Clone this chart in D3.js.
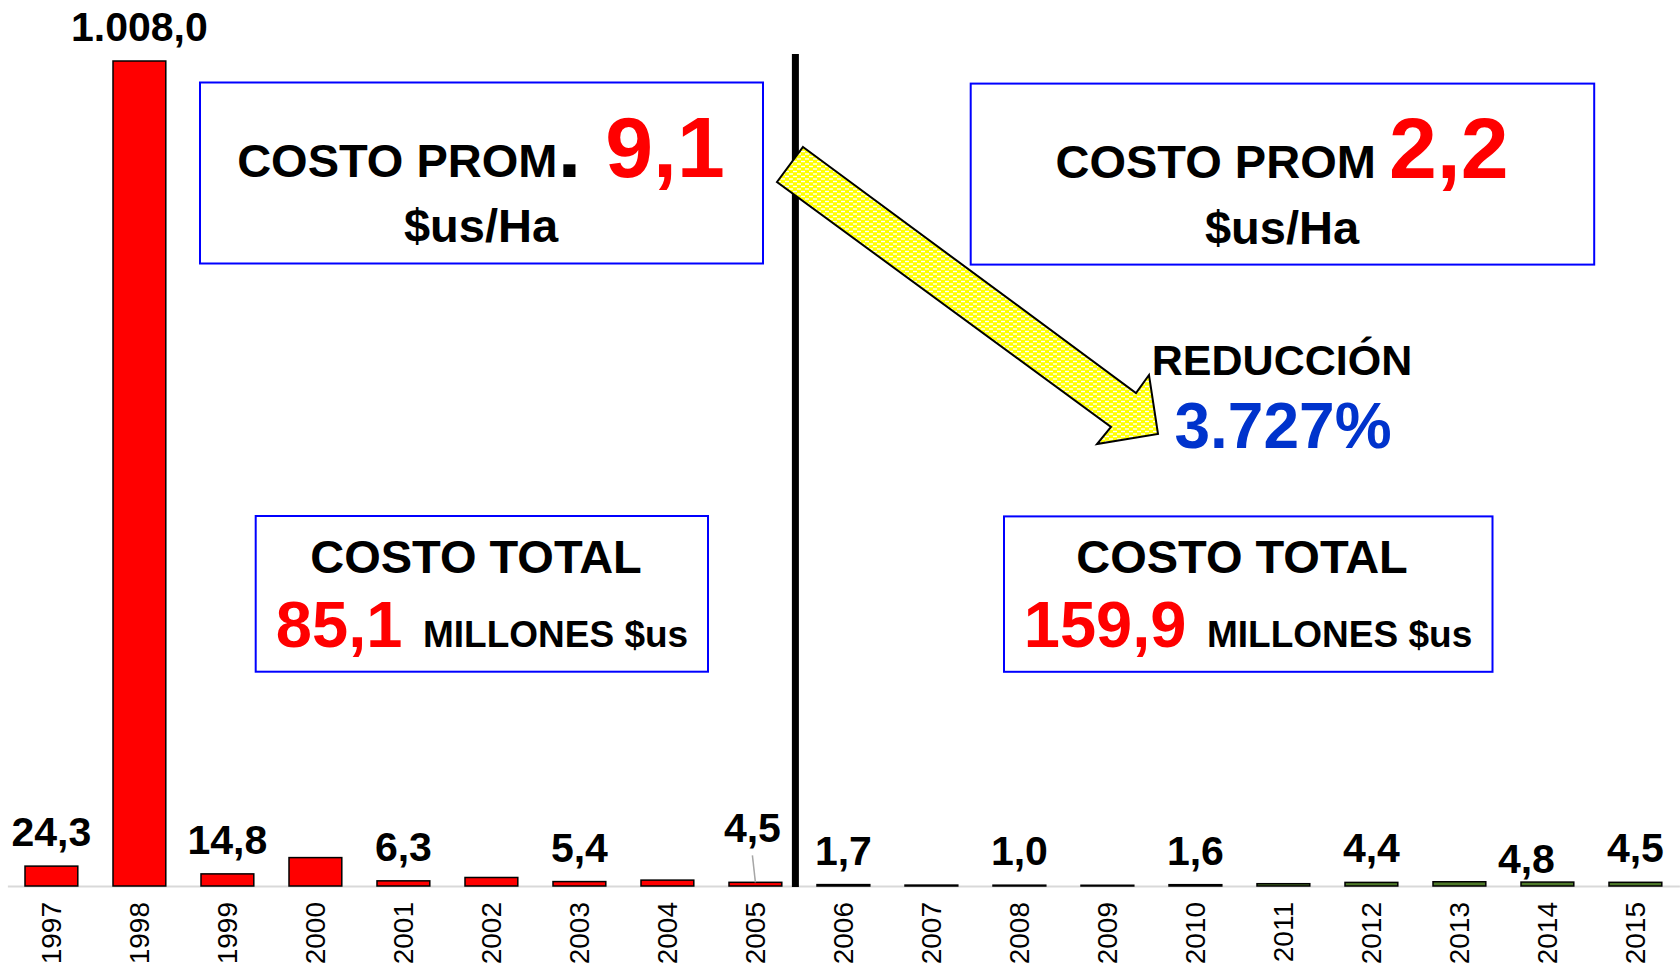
<!DOCTYPE html>
<html>
<head>
<meta charset="utf-8">
<script src="https://cdn.jsdelivr.net/npm/d3@7"></script>
<style>
  body { margin: 0; background: #fff; }
  svg { display: block; }
  text { font-family: "Liberation Sans", Arial, Helvetica, sans-serif; white-space: pre; }
</style>
</head>
<body>
<svg id="chart" width="1680" height="967"></svg>
<script>
// ---------- data ----------
const years = ["1997","1998","1999","2000","2001","2002","2003","2004","2005",
               "2006","2007","2008","2009","2010","2011","2012","2013","2014","2015"];
const costs = [24.3, 1008.0, 14.8, 34.7, 6.3, 10.4, 5.4, 7.2, 4.5,
               1.7, 1.1, 1.0, 0.9, 1.6, 2.8, 4.4, 5.2, 4.8, 4.5];
const valueLabels = ["24,3","1.008,0","14,8","","6,3","","5,4","","4,5",
                     "1,7","","1,0","","1,6","","4,4","","4,8","4,5"];
const promLabels = ["COSTO PROM", "COSTO PROM"];
const promValues = ["9,1", "2,2"];
const promUnit = "$us/Ha";
const totalTitle = "COSTO TOTAL";
const totalValues = ["85,1", "159,9"];
const totalUnit = "MILLONES $us";
const reductionLabel = "REDUCCIÓN";
const reductionValue = "3.727%";

// ---------- setup ----------
const svg = d3.select("#chart");
const FONT_B = 700;

const x = d3.scaleBand().domain(years).range([7.4, 1679.4]).paddingInner(0.4).paddingOuter(0.2);
const y = d3.scaleLinear().domain([0, 1008]).range([886, 61]);

function barColor(yr) {
  const n = +yr;
  if (n <= 2005) return "#ff0000";
  if (n <= 2010) return "#7f7f7f";
  return "#4f7a2a";
}

// pattern for arrow
const defs = svg.append("defs");
const pat = defs.append("pattern").attr("id", "arrowPat").attr("patternUnits", "userSpaceOnUse")
  .attr("width", 8).attr("height", 5);
pat.append("rect").attr("width", 8).attr("height", 5).attr("fill", "#ffff00");
pat.append("rect").attr("x", 1).attr("y", 0.8).attr("width", 4).attr("height", 1.4).attr("fill", "#ffffff");
pat.append("rect").attr("x", 5).attr("y", 3.3).attr("width", 3).attr("height", 1.4).attr("fill", "#ffffff");
pat.append("rect").attr("x", 0).attr("y", 3.3).attr("width", 1).attr("height", 1.4).attr("fill", "#ffffff");

// axis
const axis = d3.axisBottom(x).tickSize(0).tickSizeOuter(0);
const gAxis = svg.append("g").attr("transform", `translate(0,${y(0)})`).call(axis);
gAxis.select(".domain").attr("stroke", "#d9d9d9").attr("stroke-width", 2);
gAxis.selectAll(".tick text")
  .attr("transform", "rotate(-90)")
  .attr("x", -16).attr("y", 0).attr("dy", "0.36em")
  .attr("text-anchor", "end")
  .attr("font-size", 28)
  .attr("fill", "#000")
  .style("font-family", '"Liberation Sans", Arial, sans-serif');

// bars
const data = years.map((yr, i) => ({ yr, v: costs[i], label: valueLabels[i] }));
svg.append("g").selectAll("rect").data(data).join("rect")
  .attr("x", d => x(d.yr))
  .attr("width", x.bandwidth())
  .attr("y", d => y(d.v))
  .attr("height", d => y(0) - y(d.v))
  .attr("fill", d => barColor(d.yr))
  .attr("stroke", "#000")
  .attr("stroke-width", 1.5);

// value labels
const labelNudge = { "2005": { dx: -3, dy: -20 }, "2014": { dx: -21, dy: 11 } };
const lbl = data.filter(d => d.label);
svg.append("g").selectAll("text").data(lbl).join("text")
  .attr("x", d => x(d.yr) + x.bandwidth() / 2 + (labelNudge[d.yr] ? labelNudge[d.yr].dx : 0))
  .attr("y", d => y(d.v) - 20 + (labelNudge[d.yr] ? labelNudge[d.yr].dy : 0))
  .attr("text-anchor", "middle")
  .attr("font-size", 41)
  .attr("font-weight", FONT_B)
  .attr("fill", "#000")
  .text(d => d.label);

// leader line for 2005
{
  const d = data.find(e => e.yr === "2005");
  const cx = x(d.yr) + x.bandwidth() / 2;
  svg.append("line")
    .attr("x1", cx - 3).attr("y1", y(d.v) - 27)
    .attr("x2", cx).attr("y2", y(d.v))
    .attr("stroke", "#a6a6a6").attr("stroke-width", 1.5);
}

// vertical divider
const divX = x("2005") + x.bandwidth() + (x.step() - x.bandwidth()) / 2 - 4;
svg.append("line")
  .attr("x1", divX).attr("x2", divX).attr("y1", 54).attr("y2", y(0) + 1)
  .attr("stroke", "#000").attr("stroke-width", 7);

// arrow
const arrowPts = [[803,147],[1136,393],[1149,375],[1158,434],[1097,444],[1111,427],[777,182]];
svg.append("polygon")
  .attr("points", arrowPts.map(p => p.join(",")).join(" "))
  .attr("fill", "url(#arrowPat)")
  .attr("stroke", "#000").attr("stroke-width", 2).attr("stroke-linejoin", "miter");

// boxes
const boxes = [
  [200, 82.5, 563, 181],
  [970.7, 83.6, 623.5, 181],
  [255.7, 516, 452.3, 155.7],
  [1004, 516.4, 488.5, 155.4]
];
svg.append("g").selectAll("rect").data(boxes).join("rect")
  .attr("x", d => d[0]).attr("y", d => d[1]).attr("width", d => d[2]).attr("height", d => d[3])
  .attr("fill", "none").attr("stroke", "#0000ff").attr("stroke-width", 2);

// box 1 text
let t = svg.append("text").attr("x", 481).attr("y", 177).attr("text-anchor", "middle").attr("font-weight", FONT_B);
t.append("tspan").attr("font-size", 47).attr("fill", "#000").text(promLabels[0]);
t.append("tspan").attr("font-size", 86).attr("fill", "#000").text(".");
t.append("tspan").attr("font-size", 86).attr("fill", "#ff0000").text(" " + promValues[0]);
svg.append("text").attr("x", 481).attr("y", 242).attr("text-anchor", "middle")
  .attr("font-weight", FONT_B).attr("font-size", 47).text(promUnit);

// box 2 text
t = svg.append("text").attr("x", 1282).attr("y", 178).attr("text-anchor", "middle").attr("font-weight", FONT_B);
t.append("tspan").attr("font-size", 47).attr("fill", "#000").text(promLabels[1] + " ");
t.append("tspan").attr("font-size", 86).attr("fill", "#ff0000").text(promValues[1]);
svg.append("text").attr("x", 1282).attr("y", 244).attr("text-anchor", "middle")
  .attr("font-weight", FONT_B).attr("font-size", 47).text(promUnit);

// reduction
svg.append("text").attr("x", 1282).attr("y", 375).attr("text-anchor", "middle")
  .attr("font-weight", FONT_B).attr("font-size", 43).attr("fill", "#000").text(reductionLabel);
svg.append("text").attr("x", 1283).attr("y", 448).attr("text-anchor", "middle")
  .attr("font-weight", FONT_B).attr("font-size", 64).attr("fill", "#0033cc").text(reductionValue);

// total boxes
[[476, 482], [1242, 1248]].forEach((cx, i) => {
  svg.append("text").attr("x", cx[0]).attr("y", 573).attr("text-anchor", "middle")
    .attr("font-weight", FONT_B).attr("font-size", 47).attr("fill", "#000").text(totalTitle);
  const tt = svg.append("text").attr("x", cx[1]).attr("y", 647).attr("text-anchor", "middle").attr("font-weight", FONT_B);
  tt.append("tspan").attr("font-size", 65).attr("fill", "#ff0000").text(totalValues[i]);
  tt.append("tspan").attr("font-size", 37).attr("fill", "#000").text("  " + totalUnit);
});
</script>
</body>
</html>
